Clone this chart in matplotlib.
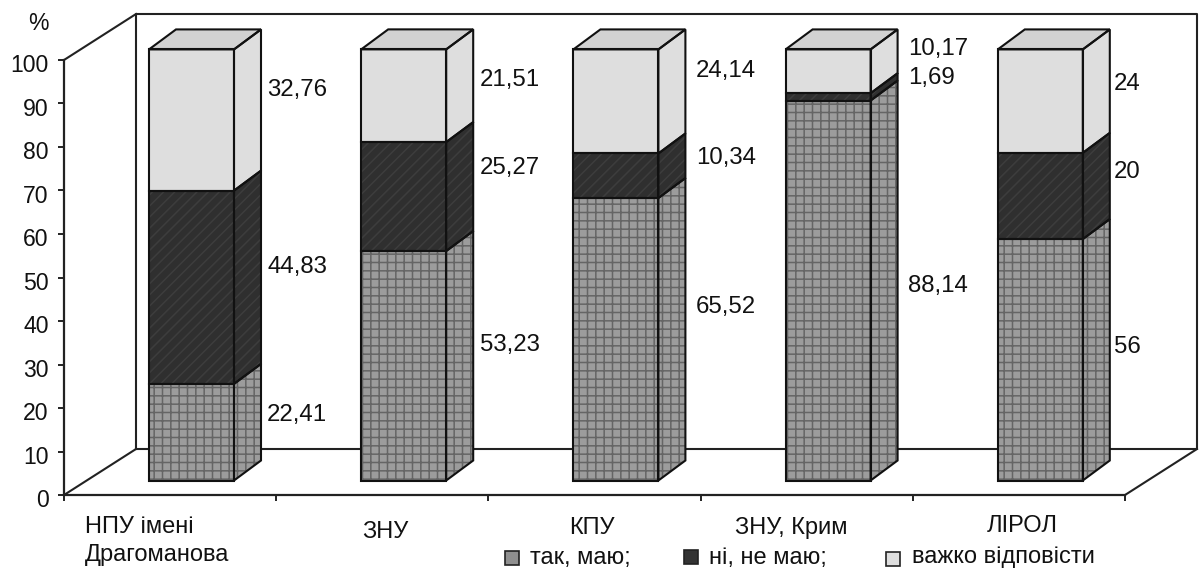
import matplotlib
matplotlib.use("Agg")
import matplotlib.pyplot as plt
from matplotlib.patches import Polygon
from matplotlib.transforms import ScaledTranslation

plt.rcParams['font.family'] = ['Liberation Sans', 'DejaVu Sans']
plt.rcParams['hatch.linewidth'] = 1.1

categories = ['НПУ імені\nДрагоманова', 'ЗНУ', 'КПУ', 'ЗНУ, Крим', 'ЛІРОЛ']
series_names = ['так, маю;', 'ні, не маю;', 'важко відповісти']
yes_vals = [22.41, 53.23, 65.52, 88.14, 56]
no_vals = [44.83, 25.27, 10.34, 1.69, 20]
hard_vals = [32.76, 21.51, 24.14, 10.17, 24]
yes_labels = ['22,41', '53,23', '65,52', '88,14', '56']
no_labels = ['44,83', '25,27', '10,34', '1,69', '20']
hard_labels = ['32,76', '21,51', '24,14', '10,17', '24']

W, H = 1202, 569
X0, X1, Y0, Y100 = 64, 1125, 495, 60   # pixel box of the front plane

fig = plt.figure(figsize=(W / 100, H / 100), dpi=100, facecolor='white')
ax = fig.add_axes([X0 / W, 1 - Y0 / H, (X1 - X0) / W, (Y0 - Y100) / H])
ax.set_xlim(0, 5)
ax.set_ylim(0, 100)
ax.patch.set_visible(False)
for s in ['top', 'right']:
    ax.spines[s].set_visible(False)
for s in ['left', 'bottom']:
    ax.spines[s].set_linewidth(1.6)
    ax.spines[s].set_color('#222222')
ax.set_xticks(range(6))
ax.set_xticklabels([])
ax.set_yticks(range(0, 101, 10))
ax.tick_params(axis='both', length=4.5, width=1.4, color='#222222')
ax.tick_params(axis='y', labelsize=16.6, pad=6.5, labelcolor='#111111')
for lab in ax.get_yticklabels():
    lab.set_transform(lab.get_transform() + ScaledTranslation(0, -2.5 / 72, fig.dpi_scale_trans))

ux = (X1 - X0) / 5
uy = (Y0 - Y100) / 100.0


def px(x, y):
    # pixel position of the source picture -> data coords
    return (x - X0) / ux, (Y0 - y) / uy


# walls and floor
wall_dx = 72 / ux
wall_dy = 46 / uy
wall = dict(color='#222222', lw=1.5, clip_on=False, zorder=1)
ax.plot([wall_dx, wall_dx, 5 + wall_dx, 5 + wall_dx, wall_dx],
        [wall_dy, 100 + wall_dy, 100 + wall_dy, wall_dy, wall_dy], **wall)
ax.plot([0, wall_dx], [0, wall_dy], **wall)
ax.plot([0, wall_dx], [100, 100 + wall_dy], **wall)
ax.plot([5, 5 + wall_dx], [0, wall_dy], **wall)

# bars
bar_w = 85 / ux
bar_left = 85 / ux
bar_floor = 14.5 / uy
bar_dx = 27 / ux
bar_dy = 20 / uy
bar_scale = 0.991
styles = [dict(facecolor='#9c9c9c', hatch='++', edgecolor='#656565'),
          dict(facecolor='#2f2f2f', hatch='///', edgecolor='#3d3d3d'),
          dict(facecolor='#dedede', hatch='', edgecolor='#dedede')]


def face(pts, st):
    ax.add_patch(Polygon(pts, closed=True, clip_on=False, zorder=2, lw=0, **st))
    ax.add_patch(Polygon(pts, closed=True, clip_on=False, zorder=3, fill=False,
                         edgecolor='#111111', lw=1.5))


for i in range(len(categories)):
    left = i + bar_left
    right = left + bar_w
    bottom = bar_floor
    for vals, st in zip([yes_vals, no_vals, hard_vals], styles):
        top = bottom + vals[i] * bar_scale
        face([(left, bottom), (right, bottom), (right, top), (left, top)], st)
        face([(right, bottom), (right + bar_dx, bottom + bar_dy),
              (right + bar_dx, top + bar_dy), (right, top)], st)
        bottom = top
    face([(left, top), (right, top), (right + bar_dx, top + bar_dy),
          (left + bar_dx, top + bar_dy)],
         dict(facecolor='#d2d2d2', edgecolor='#d2d2d2', hatch=''))

# value labels
label_x = [267, 480, 696, 908, 1114]
yes_y = [415, 345, 307, 286, 347]
no_y = [267, 168, 158, 78, 172]
hard_y = [90, 80, 71, 49, 84]
for labels, ys in zip([yes_labels, no_labels, hard_labels], [yes_y, no_y, hard_y]):
    for lab, lx, ly in zip(labels, label_x, ys):
        ax.text(*px(lx, ly), lab, fontsize=17.3, ha='left', va='center',
                clip_on=False, zorder=5, color='#111111')

ax.text(*px(38, 23), '%', fontsize=16.6, ha='center', va='center', color='#111111')

# category labels
cat_x = [85, 362, 569, 735, 987]
cat_y = [541, 532, 528, 528, 526]
for name, cx, cy in zip(categories, cat_x, cat_y):
    ax.text(*px(cx, cy), name, fontsize=17, ha='left', va='center',
            linespacing=1.3, clip_on=False, color='#111111')

# legend
leg_marker_x = [512, 691, 893]
leg_marker_y = [558, 557, 559]
leg_text_x = [530, 709, 912]
leg_text_y = [558, 558, 557]
leg_colors = ['#8f8f8f', '#333333', '#dedede']
for name, mx, my, tx, ty, c in zip(series_names, leg_marker_x, leg_marker_y,
                                   leg_text_x, leg_text_y, leg_colors):
    ax.plot(*px(mx, my), marker='s', ms=10.5, mfc=c, mec='#222222', mew=1.2,
            clip_on=False, ls='none')
    ax.text(*px(tx, ty), name, fontsize=17, ha='left', va='center',
            clip_on=False, color='#111111')

fig.savefig('out.png', dpi=100)
